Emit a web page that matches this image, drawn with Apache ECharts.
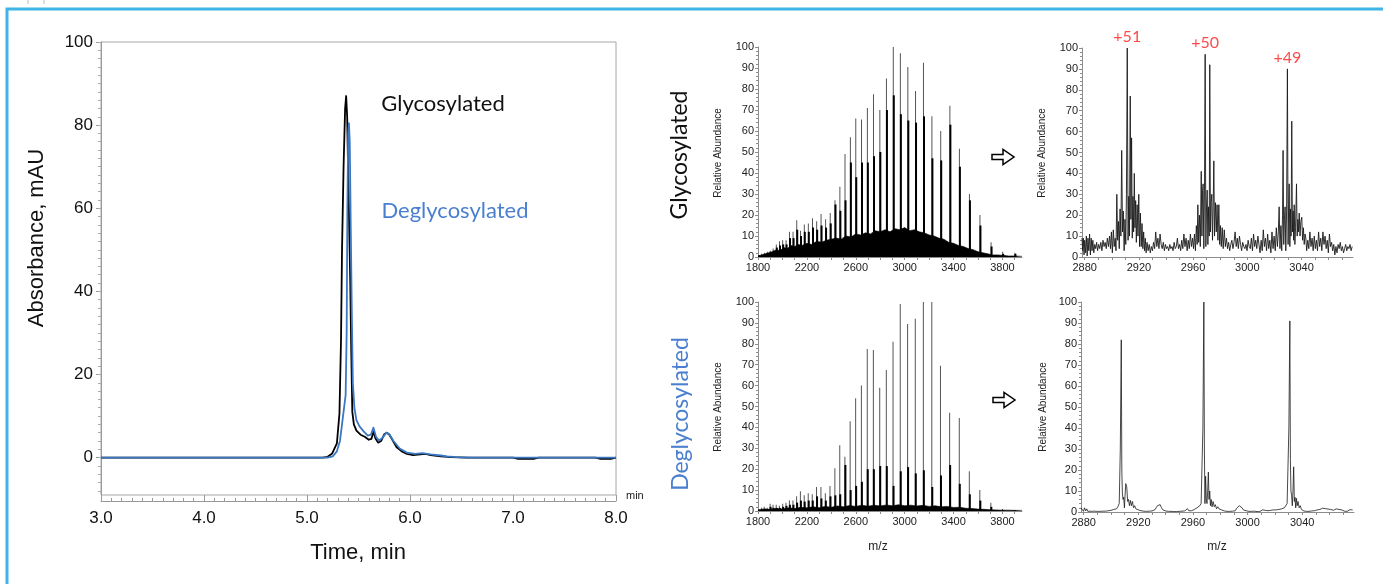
<!DOCTYPE html>
<html>
<head>
<meta charset="utf-8">
<title>Glycosylated vs deglycosylated antibody</title>
<script src="https://cdn.jsdelivr.net/npm/echarts@6/dist/echarts.min.js"></script>
<style>
  html, body { margin: 0; padding: 0; background: #fff; }
  #chart { width: 1383px; height: 584px; }
</style>
</head>
<body>
<div id="chart"></div>
<script>
// ---- chromatogram (left) ----
const timeGly = [3.0, 5.15, 5.2, 5.245, 5.29, 5.315, 5.33, 5.34, 5.355, 5.37, 5.38, 5.39, 5.4, 5.41, 5.42, 5.43, 5.44, 5.455, 5.48, 5.52, 5.56, 5.6, 5.625, 5.645, 5.665, 5.69, 5.72, 5.75, 5.775, 5.8, 5.83, 5.87, 5.92, 5.97, 6.03, 6.1, 6.15, 6.2, 6.3, 6.4, 6.55, 7.0, 7.05, 7.2, 7.25, 7.8, 7.85, 7.95, 8.0]
const absGly = [0, 0, 0.2, 1, 3.4, 10.6, 28, 50, 70, 84, 87, 82, 68, 55, 42, 25, 11, 8, 6.5, 5.5, 5, 4.3, 4.5, 6.2, 4.6, 3.6, 4, 5.6, 6, 5.5, 4.2, 2.5, 1.5, 0.9, 0.6, 0.8, 0.9, 0.6, 0.3, 0.1, 0, 0, -0.3, -0.3, 0, 0, -0.3, -0.3, 0]
const timeDegly = [3.0, 5.2, 5.25, 5.29, 5.32, 5.34, 5.36, 5.375, 5.385, 5.392, 5.4, 5.407, 5.415, 5.425, 5.435, 5.445, 5.46, 5.48, 5.51, 5.55, 5.59, 5.62, 5.645, 5.67, 5.7, 5.735, 5.77, 5.8, 5.84, 5.9, 5.97, 6.05, 6.12, 6.2, 6.3, 6.36, 6.45, 6.6, 8.0]
const absDegly = [0, 0, 0.3, 1.5, 4, 8, 12, 15, 30, 60, 78, 80.5, 76, 55, 35, 18, 12, 9, 7.5, 6.3, 5.3, 5.5, 7.2, 5, 4.1, 4.8, 6, 5.6, 4, 2.2, 1.2, 0.9, 1.1, 0.8, 0.5, 0.3, 0.1, 0, 0]
const absTicks = [0, 20, 40, 60, 80, 100]

// ---- full-range MS spectra (middle) ----
const glyMz = [1811, 1833, 1856, 1880, 1904, 1928, 1954, 1980, 2006, 2034, 2062, 2091, 2121, 2152, 2183, 2216, 2250, 2284, 2320, 2357, 2395, 2434, 2474, 2516, 2560, 2604, 2651, 2699, 2749, 2801, 2855, 2911, 2969, 3030, 3093, 3158, 3227, 3299, 3374, 3452, 3534, 3620, 3711, 3806, 3906]
const glyPeak = [1, 1.5, 2, 2.5, 3, 4, 6, 7.5, 8, 8, 12, 12, 17.5, 12.5, 15.5, 16, 18.5, 17, 20.5, 18, 21, 27, 33.5, 49, 57, 66, 65.5, 71, 77.5, 70, 85, 100, 97, 90.5, 79, 92.5, 67, 60, 72, 51.5, 30, 20, 7, 2.5, 2]
const glyCore = [0.8, 1, 1.5, 2, 2.5, 3, 4.5, 5.5, 6, 6, 9, 9, 13, 10, 12, 12, 14, 13, 15, 14, 16, 25, 22, 27, 45, 38, 45, 45, 48, 50, 70, 77, 68, 65, 64, 67, 47, 46, 63, 43, 27, 15, 5, 1.5, 1.5]
const glyFloor = [[1800, 0.5], [1830, 1], [1860, 1.5], [1890, 2], [1920, 2.5], [1950, 3.5], [1980, 3], [2010, 4.5], [2040, 4], [2070, 5.5], [2100, 5], [2130, 6], [2160, 5.5], [2200, 6.5], [2240, 6], [2280, 7.5], [2320, 7], [2360, 8], [2400, 8.5], [2440, 9], [2480, 8.5], [2520, 10], [2560, 9.5], [2600, 11], [2640, 10.5], [2680, 11.5], [2720, 11], [2760, 12.5], [2800, 12], [2840, 13], [2880, 12], [2920, 13.5], [2960, 13], [3000, 14], [3040, 12.5], [3080, 13], [3120, 12], [3160, 11.5], [3200, 10.5], [3240, 10], [3280, 9], [3320, 8.5], [3360, 7], [3400, 6.5], [3440, 5.5], [3480, 5], [3520, 4], [3560, 3.5], [3600, 2.5], [3640, 2], [3680, 1.5], [3720, 1], [3760, 1], [3800, 0.8], [3850, 0.5], [3900, 0.5], [3960, 0.3]]

const deglyMz = [1810, 1832, 1855, 1879, 1903, 1927, 1953, 1979, 2006, 2033, 2061, 2090, 2120, 2151, 2182, 2215, 2248, 2283, 2319, 2355, 2393, 2433, 2473, 2515, 2558, 2603, 2650, 2698, 2748, 2800, 2854, 2909, 2968, 3028, 3091, 3157, 3226, 3297, 3372, 3451, 3533, 3619, 3709, 3804, 3904]
const deglyPeak = [1, 1.5, 2, 1.5, 3.5, 3, 3, 2.5, 3.5, 4, 5, 5, 7, 9.5, 7.5, 8.5, 8, 11.5, 11.5, 8.5, 12, 20.5, 31.5, 26, 43, 54, 60, 77.5, 77, 59, 67.5, 81, 99, 89.5, 92, 100, 100, 69.5, 47, 44.5, 19, 10, 4, 1, 0.5]
const deglyCore = [0.5, 0.8, 1, 0.8, 2, 1.5, 1.5, 1.5, 2, 2.5, 3, 3, 4, 5, 4.5, 5, 5, 7, 6, 5, 7, 7.5, 8, 22, 10, 12, 14, 20, 20, 21.5, 21.5, 12, 19, 21, 18, 19.5, 11.5, 17, 22, 13, 8, 5, 2, 0.5, 0.3]
const deglyFloor = [[1800, 0.5], [1850, 1], [1900, 0.8], [1950, 1.2], [2000, 1], [2050, 1.5], [2100, 1.2], [2150, 1.8], [2200, 1.5], [2250, 2], [2300, 1.6], [2350, 2.2], [2400, 1.8], [2450, 2.4], [2500, 2], [2550, 2.6], [2600, 2.2], [2650, 2.8], [2700, 2.3], [2750, 2.8], [2800, 2.4], [2850, 2.9], [2900, 2.5], [2950, 3], [3000, 2.5], [3050, 2.8], [3100, 2.4], [3150, 2.7], [3200, 2.2], [3250, 2.5], [3300, 2], [3350, 2.2], [3400, 1.7], [3450, 1.8], [3500, 1.3], [3550, 1.2], [3600, 0.9], [3650, 0.8], [3700, 0.6], [3750, 0.5], [3800, 0.4], [3850, 0.4], [3900, 0.3], [3960, 0.3]]
const fullTicks = [1800, 2200, 2600, 3000, 3400, 3800]

// ---- zoomed MS spectra (right) ----
const glyZoom = [[2878, 9], [2878.5, 3], [2879, 9], [2879.5, 1], [2880, 8], [2880.6, 2], [2881.2, 10], [2881.8, 0.5], [2882.4, 9], [2883, 3], [2883.6, 11], [2884.2, 1], [2884.8, 9], [2885.4, 3], [2886, 8], [2886.7, 2], [2887.4, 6], [2888.1, 4], [2888.8, 7], [2889.5, 3], [2890.3, 6], [2891.1, 4], [2891.9, 7], [2892.7, 3], [2893.5, 8], [2894.3, 5], [2895.1, 7], [2895.9, 4], [2896.7, 9], [2897.5, 5], [2898.3, 10], [2899, 4], [2899.7, 12], [2900.4, 2], [2901.1, 13], [2901.8, 5], [2902.5, 9],
  [2903.1, 3], [2903.7, 30], [2904.3, 8], [2904.9, 17], [2905.5, 4], [2906.1, 23], [2906.7, 10], [2907.3, 51], [2907.9, 12], [2908.5, 22], [2909.1, 3], [2909.7, 18], [2910.3, 6], [2910.8, 30], [2911.4, 100], [2912, 8], [2912.5, 29], [2913, 10], [2913.6, 77], [2914.1, 18], [2914.6, 57], [2915.1, 9], [2915.6, 29], [2916.1, 12], [2916.6, 40], [2917.1, 14], [2917.6, 27], [2918.1, 7], [2918.7, 25], [2919.3, 10], [2919.9, 30], [2920.5, 5], [2921.1, 21], [2921.7, 5], [2922.3, 16], [2922.9, 4], [2923.5, 12], [2924.1, 3], [2924.7, 9], [2925.3, 2], [2926, 7],
  [2926.8, 3], [2927.6, 6], [2928.4, 2], [2929.2, 5], [2930, 3], [2930.8, 7], [2931.6, 4], [2932.4, 12], [2933.2, 5], [2934, 9], [2934.8, 4], [2935.6, 11], [2936.4, 6], [2937.2, 4], [2938, 7], [2938.8, 3], [2939.6, 6], [2940.4, 4], [2941.2, 5], [2942, 3], [2942.8, 6], [2943.6, 4], [2944.4, 5], [2945.2, 3], [2946, 7], [2946.8, 4], [2947.6, 5], [2948.4, 9], [2949.2, 4], [2950, 6], [2950.8, 3], [2951.6, 8], [2952.4, 4], [2953.2, 11], [2954, 5], [2954.8, 9], [2955.6, 3], [2956.4, 8], [2957.2, 4], [2958, 11],
  [2958.8, 5], [2959.6, 9], [2960.3, 4], [2961, 11], [2961.7, 3], [2962.4, 15], [2963, 6], [2963.5, 25], [2964.1, 7], [2964.7, 20], [2965.3, 5], [2966, 41], [2966.5, 10], [2967, 32], [2967.4, 35], [2967.9, 4], [2968.4, 32], [2968.9, 97], [2969.4, 5], [2969.9, 24], [2970.4, 32], [2970.9, 6], [2971.4, 24], [2971.9, 10], [2972.3, 92], [2972.8, 12], [2973.3, 26], [2973.8, 30], [2974.3, 8], [2974.8, 24], [2975.3, 46], [2975.8, 10], [2976.5, 26], [2977.1, 12], [2977.7, 25], [2978.3, 8], [2979, 25], [2979.6, 6], [2980.2, 15], [2980.8, 5], [2981.5, 14], [2982.2, 4], [2983, 13],
  [2983.8, 5], [2984.6, 9], [2985.4, 4], [2986.2, 7], [2987, 3], [2987.8, 6], [2988.6, 8], [2989.4, 4], [2990.2, 7], [2991, 12], [2991.8, 5], [2992.6, 9], [2993.4, 4], [2994.2, 10], [2995, 6], [2995.8, 3], [2996.6, 7], [2997.4, 5], [2998.2, 4], [2999, 6], [2999.8, 3], [3000.6, 8], [3001.4, 5], [3002.2, 4], [3003, 9], [3003.8, 3], [3004.6, 11], [3005.4, 5], [3006.2, 8], [3007, 4], [3007.8, 10], [3008.6, 6], [3009.4, 2], [3010.2, 8], [3011, 3], [3011.8, 13], [3012.6, 5], [3013.4, 9], [3014.2, 3], [3015, 11], [3015.8, 4], [3016.6, 8], [3017.4, 2], [3018.2, 12],
  [3019, 4], [3019.8, 10], [3020.6, 3], [3021.4, 14], [3022.2, 5], [3022.9, 12], [3023.5, 24], [3024.1, 4], [3024.8, 15], [3025.4, 3], [3026, 20], [3026.4, 51], [3026.9, 6], [3027.4, 18], [3027.9, 24], [3028.4, 3], [3029, 22], [3029.6, 90], [3030.1, 6], [3030.5, 24], [3030.9, 35], [3031.4, 5], [3031.9, 23], [3032.3, 10], [3032.8, 65], [3033.3, 12], [3033.8, 22], [3034.2, 8], [3034.6, 25], [3035.1, 6], [3035.6, 14], [3036.3, 35], [3036.8, 10], [3037.3, 18], [3037.8, 12], [3038.3, 21], [3038.9, 10], [3039.5, 17], [3040.2, 19], [3040.8, 8], [3041.4, 14], [3042, 6], [3042.6, 11], [3043.2, 9], [3043.8, 3],
  [3044.6, 8], [3045.4, 4], [3046.2, 12], [3047, 5], [3047.8, 9], [3048.6, 3], [3049.4, 10], [3050.2, 4], [3051, 8], [3051.8, 3], [3052.6, 12], [3053.4, 5], [3054.2, 9], [3055, 3], [3055.8, 12], [3056.6, 6], [3057.4, 10], [3058.2, 4], [3059, 8], [3059.8, 2], [3060.6, 11], [3061.4, 5], [3062.2, 7], [3063, 3], [3063.8, 6], [3064.6, 1], [3065.4, 5], [3066.2, 2], [3067, 6], [3067.8, 4], [3068.6, 7], [3069.4, 3], [3070.2, 5], [3071, 2], [3071.8, 4], [3072.6, 6], [3073.4, 3], [3074.2, 5], [3075, 4], [3075.8, 6], [3076.6, 3], [3077.4, 5]]

const deglyZoom = [[2878, 2], [2879, 1.5], [2879.8, 0.3], [2880.6, 2], [2881.4, 0.5], [2882.2, 1.5], [2883, 0.3], [2883.8, 1.2], [2884.6, 0.4], [2885.4, 1], [2886.2, 0.3], [2887, 0.9], [2888, 0.4], [2889, 0.8], [2890, 0.3], [2891, 0.7], [2892, 0.3], [2893, 0.8], [2894, 0.4], [2895, 0.9], [2896, 0.4], [2897, 1], [2898, 0.6], [2899, 1.2], [2900, 0.8], [2901, 1.4], [2902, 1.2], [2903, 1.8], [2904, 1.5], [2905, 2.5], [2906, 4],
  [2906.8, 30], [2907.5, 82], [2907.9, 20], [2908.3, 9], [2908.8, 6], [2909.3, 7], [2909.8, 2], [2910.3, 8], [2910.8, 13.5], [2911.5, 12], [2912.2, 5], [2912.8, 6], [2913.5, 3], [2914.2, 5.5], [2914.9, 3], [2915.7, 5], [2916.5, 2], [2917.3, 3], [2918.2, 1.5], [2919.1, 2], [2920, 1], [2921, 1.5], [2922, 0.6], [2923, 1], [2924, 0.4], [2925, 0.8], [2926, 0.3], [2927, 0.6], [2928, 0.4], [2929, 1], [2930, 0.5], [2931, 1.2], [2932, 1], [2933, 1.6], [2934, 3], [2935, 3.8], [2936, 3.5], [2937, 2], [2938, 1], [2939, 1.2], [2940, 0.5], [2941, 0.8], [2942, 0.3], [2943, 0.7], [2944, 0.3], [2945, 0.6], [2946, 0.2], [2947, 0.5], [2948, 0.2], [2949, 0.6], [2950, 0.3], [2951, 0.8], [2952, 0.4], [2953, 1], [2954, 0.5], [2955, 0.9], [2956, 1.6], [2957, 0.6], [2958, 1.2], [2959, 0.6], [2960, 1.5], [2961, 1.2], [2962, 2], [2963, 2], [2964, 2.5], [2965, 3], [2966, 4],
  [2967.3, 40], [2968, 100], [2968.4, 30], [2968.8, 4], [2969.3, 17], [2969.8, 6], [2970.3, 4], [2970.8, 10], [2971.3, 19], [2971.8, 6], [2972.3, 10], [2972.8, 3], [2973.4, 6], [2974, 2.5], [2974.8, 5], [2975.6, 2.5], [2976.4, 3.5], [2977.3, 1.5], [2978.2, 2.5], [2979.1, 1.5], [2980, 2], [2981, 1], [2982, 1.2], [2983, 0.5], [2984, 0.8], [2985, 0.3], [2986, 0.6], [2987, 0.3], [2988, 0.9], [2989, 0.4], [2990, 1.2], [2991, 0.6], [2992, 1.8], [2993, 2.4], [2994, 3], [2995, 2.4], [2996, 2], [2997, 1], [2998, 1.5], [2999, 0.6], [3000, 1], [3001, 0.3], [3002, 0.8], [3003, 0.3], [3004, 1], [3005, 0.4], [3006, 0.8], [3007, 0.2], [3008, 0.6], [3009, 0.2], [3010, 0.5], [3011, 1], [3012, 0.3], [3013, 0.8], [3014, 0.2], [3015, 0.6], [3016, 0.3], [3017, 0.8], [3018, 0.4], [3019, 1], [3020, 0.5], [3021, 1], [3022, 0.6], [3023, 1.2], [3024, 0.8], [3025, 1.5], [3026, 1.2], [3027, 2], [3028, 2.5], [3029, 4],
  [3030.3, 40], [3031, 91], [3031.4, 25], [3031.8, 10], [3032.3, 8], [3032.8, 3], [3033.3, 10], [3033.8, 21.5], [3034.3, 5], [3034.8, 7], [3035.3, 2], [3035.8, 6.5], [3036.4, 3], [3037, 5], [3037.8, 2], [3038.6, 3], [3039.5, 1.2], [3040.4, 1.5], [3041.3, 0.5], [3042.2, 0.9], [3043.1, 0.3], [3044, 0.7], [3045, 0.3], [3046, 0.8], [3047, 0.5], [3048, 1], [3049, 0.6], [3050, 1.2], [3051, 1], [3052, 1.5], [3053, 1.2], [3054, 2], [3055, 1.8], [3056, 2.4], [3057, 1.6], [3058, 2.2], [3059, 1.4], [3060, 2], [3061, 1.2], [3062, 1.6], [3063, 0.8], [3064, 1.3], [3065, 1.5], [3066, 0.8], [3067, 1.2], [3068, 0.5], [3069, 1], [3070, 1.2], [3071, 0.4], [3072, 1], [3073, 0.3], [3074, 0.8], [3075, 1.1], [3076, 0.5], [3077, 1]]
const zoomTicks = [2880, 2920, 2960, 3000, 3040]
const chargeLabel = ['+51', '+50', '+49']
const chargeMz = [2911.4, 2968.9, 3029.6]
const chargeTop = [100, 97, 90]

// ---- helpers ----
const zip = (xs, ys) => xs.map((x, i) => [x, ys[i]])
const stepList = (a, b, s) => { let r = []; for (let v = a; v <= b + 1e-9; v += s) r.push(+v.toFixed(3)); return r }

const BLUE = '#3b78c4'
const AX = '#8c8c8c'
const SANS = 'Liberation Sans, Arial, sans-serif'
const TITLE = 'Lato, Noto Sans, sans-serif'

// one grid per panel: 0 chromatogram, 1 top-mid, 2 top-right, 3 bottom-mid, 4 bottom-right
const grids = [
  { left: 101, top: 42, width: 515, height: 453, show: true, borderColor: '#a6a6a6', borderWidth: 1 },
  { left: 758, top: 47, width: 264, height: 210 },
  { left: 1082, top: 48, width: 271, height: 209 },
  { left: 758, top: 302, width: 264, height: 209 },
  { left: 1081, top: 302, width: 273, height: 210 },
]

function msXAxis(gi, min, max, ticks, minor) {
  return {
    type: 'value', gridIndex: gi, min: min, max: max,
    axisLine: { show: true, onZero: false, lineStyle: { color: AX, width: 1 } },
    axisTick: { show: true, customValues: minor, length: 3, lineStyle: { color: AX } },
    axisLabel: { customValues: ticks, fontSize: 11, color: '#222', fontFamily: SANS, margin: 5, formatter: v => String(v) },
    splitLine: { show: false },
  }
}
function msYAxis(gi) {
  return {
    type: 'value', gridIndex: gi, min: 0, max: 100, interval: 10,
    axisLine: { show: true, lineStyle: { color: AX, width: 1 } },
    axisTick: { show: true, length: 3, lineStyle: { color: AX } },
    minorTick: { show: true, splitNumber: 5, length: 2, lineStyle: { color: AX } },
    axisLabel: { fontSize: 11, color: '#222', fontFamily: SANS, margin: 4 },
    splitLine: { show: false },
  }
}

const xAxes = [
  {
    type: 'value', gridIndex: 0, min: 3, max: 8, interval: 1, offset: 6,
    axisLine: { show: true, onZero: false, lineStyle: { color: '#999' } },
    axisTick: { show: true, inside: true, length: 6, lineStyle: { color: '#999' } },
    minorTick: { show: true, splitNumber: 10, length: 3, lineStyle: { color: '#999' } },
    axisLabel: { fontSize: 17, color: '#111', fontFamily: SANS, margin: 9, formatter: v => v.toFixed(1) },
    splitLine: { show: false },
    name: 'min', nameLocation: 'end', nameGap: 10,
    nameTextStyle: { fontSize: 11, color: '#222', fontFamily: SANS, verticalAlign: 'bottom' },
  },
  msXAxis(1, 1800, 3960, fullTicks, stepList(1800, 3900, 100)),
  msXAxis(2, 2878, 3078, zoomTicks, stepList(2880, 3070, 10)),
  msXAxis(3, 1800, 3960, fullTicks, stepList(1800, 3900, 100)),
  msXAxis(4, 2878, 3078, zoomTicks, stepList(2880, 3070, 10)),
]

const yAxes = [
  {
    type: 'value', gridIndex: 0, min: -9, max: 100,
    axisLine: { show: true, lineStyle: { color: '#999' } },
    axisTick: { show: true, customValues: absTicks, length: 5, lineStyle: { color: '#999' } },
    axisLabel: { customValues: absTicks, fontSize: 17, color: '#111', fontFamily: SANS, margin: 8 },
    splitLine: { show: false },
  },
  // minor ticks every 2 mAU on the chromatogram
  {
    type: 'value', gridIndex: 0, min: -9, max: 100, position: 'left',
    axisLine: { show: false },
    axisTick: { show: true, customValues: stepList(-8, 100, 2), length: 3, lineStyle: { color: '#aaa' } },
    axisLabel: { show: false },
    splitLine: { show: false },
  },
  msYAxis(1), msYAxis(2), msYAxis(3), msYAxis(4),
]

function spikes(name, xi, yi, data, width, color) {
  return {
    name: name, type: 'bar', xAxisIndex: xi, yAxisIndex: yi, data: data,
    barWidth: width, barGap: '-100%', itemStyle: { color: color }, silent: true,
  }
}
function trace(name, xi, yi, data, color, width, extra) {
  return Object.assign({
    name: name, type: 'line', xAxisIndex: xi, yAxisIndex: yi, data: data,
    showSymbol: false, symbol: 'none', lineStyle: { color: color, width: width, join: 'round' }, itemStyle: { color: color },
  }, extra || {})
}

const series = [
  trace('Glycosylated', 0, 0, zip(timeGly, absGly), '#000', 1.8),
  trace('Deglycosylated', 0, 0, zip(timeDegly, absDegly), BLUE, 1.8, { z: 3 }),

  trace('gly floor', 1, 2, glyFloor, '#000', 0.6, { areaStyle: { color: '#000', opacity: 1 } }),
  spikes('gly peaks', 1, 2, zip(glyMz, glyPeak), 1, '#555'),
  spikes('gly core', 1, 2, zip(glyMz, glyCore), 2, '#000'),

  trace('gly zoom', 2, 3, glyZoom, '#1a1a1a', 0.9),
  {
    type: 'scatter', xAxisIndex: 2, yAxisIndex: 3, symbolSize: 0, silent: true,
    data: chargeMz.map((m, i) => [m, chargeTop[i], chargeLabel[i]]),
    label: { show: true, position: 'top', distance: 3, formatter: p => p.value[2], color: '#ff1a1a', fontSize: 16, fontFamily: TITLE },
  },

  trace('degly floor', 3, 4, deglyFloor, '#000', 0.6, { areaStyle: { color: '#000', opacity: 1 } }),
  spikes('degly peaks', 3, 4, zip(deglyMz, deglyPeak), 1, '#555'),
  spikes('degly core', 3, 4, zip(deglyMz, deglyCore), 2, '#000'),

  trace('degly zoom', 4, 5, deglyZoom, '#1a1a1a', 0.8),
]

function txt(x, y, text, size, color, family, rot) {
  return {
    type: 'text', x: x, y: y, rotation: rot || 0, silent: true,
    style: { text: text, fontSize: size, fill: color, fontFamily: family, textAlign: 'center', textVerticalAlign: 'middle' },
  }
}
function arrow(cx, cy) {
  return {
    type: 'polygon', x: cx, y: cy, silent: true,
    shape: { points: [[-11, -2.5], [0, -2.5], [0, -7.5], [11, 0], [0, 7.5], [0, 2.5], [-11, 2.5]] },
    style: { fill: '#fff', stroke: '#000', lineWidth: 1.5 },
  }
}

const graphics = [
  // frame around the figure
  { type: 'polyline', silent: true, shape: { points: [[7, 600], [7, 9], [1400, 9]] }, style: { stroke: '#3fb4e6', lineWidth: 3, fill: null } },
  { type: 'line', silent: true, shape: { x1: 28, y1: 0, x2: 28, y2: 4 }, style: { stroke: '#bbb', lineWidth: 1 } },
  { type: 'line', silent: true, shape: { x1: 44, y1: 0, x2: 44, y2: 4 }, style: { stroke: '#bbb', lineWidth: 1 } },
  txt(37, 238, 'Absorbance, mAU', 22, '#111', SANS, Math.PI / 2),
  txt(358, 553, 'Time, min', 22, '#111', SANS),
  txt(443, 104, 'Glycosylated', 22, '#111', TITLE),
  txt(455, 211, 'Deglycosylated', 22, '#4a7fd0', TITLE),
  txt(680, 155, 'Glycosylated', 23, '#111', TITLE, Math.PI / 2),
  txt(681, 414, 'Deglycosylated', 23, '#4a7fd0', TITLE, Math.PI / 2),
  txt(718, 153, 'Relative Abundance', 10, '#222', SANS, Math.PI / 2),
  txt(1042, 153, 'Relative Abundance', 10, '#222', SANS, Math.PI / 2),
  txt(718, 407, 'Relative Abundance', 10, '#222', SANS, Math.PI / 2),
  txt(1043, 407, 'Relative Abundance', 10, '#222', SANS, Math.PI / 2),
  txt(878, 547, 'm/z', 12, '#222', SANS),
  txt(1217, 547, 'm/z', 12, '#222', SANS),
  arrow(1003, 157),
  arrow(1004, 400),
]

const myChart = echarts.init(document.getElementById('chart'), null, { renderer: 'canvas' })
const option = {
  animation: false,
  backgroundColor: '#fff',
  grid: grids,
  xAxis: xAxes,
  yAxis: yAxes,
  series: series,
  graphic: graphics,
}
option && myChart.setOption(option)
</script>
</body>
</html>
